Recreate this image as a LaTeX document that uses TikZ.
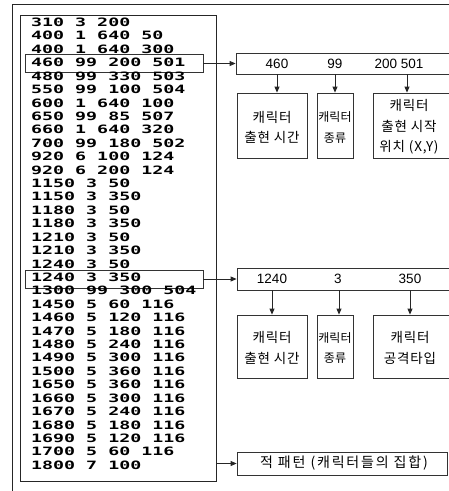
\documentclass[tikz,border=0pt]{standalone}
\usepackage{fontspec}
\usetikzlibrary{arrows.meta}
\setmainfont{Liberation Sans}
\newfontfamily\kr{Noto Sans CJK KR}
\newfontfamily\krsp{Noto Sans CJK KR}[LetterSpace=6]
\newfontfamily\krwide{Noto Sans CJK KR}[LetterSpace=13]
\newfontfamily\listfont{DejaVu Sans Mono}
\tikzset{
  frameline/.style={draw=black!85, line width=0.9pt},
  listbox/.style={draw=black!85, line width=0.9pt, minimum width=196, minimum height=466, inner sep=0},
  hlbox/.style={draw=black!80, line width=0.8pt, minimum width=178, minimum height=18, inner sep=0},
  listrow/.style={anchor=west, inner sep=0, font=\listfont\bfseries\fontsize{11.5}{13}\selectfont},
  infobox/.style={draw=black!80, line width=0.8pt, inner sep=0},
  numtxt/.style={inner sep=0, font=\fontsize{13.5}{15}\selectfont},
  subbox/.style={draw=black!80, line width=0.8pt, inner sep=0, align=center},
  krtxt/.style={inner sep=0, align=center, font=\krsp\fontsize{13.5}{20.5}\selectfont},
  krtight/.style={inner sep=0, align=center, font=\kr\fontsize{12}{20.5}\selectfont},
  arr/.style={draw=black!85, line width=0.8pt, -{Triangle[length=6pt,width=5pt]}}
}
\begin{document}
\begin{tikzpicture}[x=1pt,y=-1pt]
\clip (0,0) rectangle (449,491);
\useasboundingbox (0,0) rectangle (449,491);
% outer frame
\draw[frameline] (12,500) -- (12,4) -- (460,4);
% inner list box
\node[listbox] (list) at (118,248) {};
% highlight boxes
\node[hlbox] (h1) at (114,63.5) {};
\node[hlbox] (h2) at (114,279) {};
% rows
\foreach \t [count=\i] in {310 3 200,400 1 640 50,400 1 640 300,460 99 200 501,480 99 330 503,550 99 100 504,600 1 640 100,650 99 85 507,660 1 640 320,700 99 180 502,920 6 100 124,920 6 200 124,1150 3 50,1150 3 350,1180 3 50,1180 3 350,1210 3 50,1210 3 350,1240 3 50,1240 3 350,1300 99 300 504,1450 5 60 116,1460 5 120 116,1470 5 180 116,1480 5 240 116,1490 5 300 116,1500 5 360 116,1650 5 360 116,1660 5 300 116,1670 5 240 116,1680 5 180 116,1690 5 120 116,1700 5 60 116,1800 7 100}
  \node[listrow] (r\i) at (31,{22.3+(\i-1)*13.42}) {\scalebox{1.59}[1]{\t}};
% section 1
\node[infobox, minimum width=224, minimum height=21] (info1) at (348,63.5) {};
\node[numtxt] (n460) at (277,63.5) {460};
\node[numtxt] (n99) at (335,63.5) {99};
\node[numtxt] (n200) at (399,63.5) {200 501};
\draw[arr] (h1.east) -- (info1.west);
\node[subbox, minimum width=70, minimum height=65] (a1) at (272,125.5) {};
\node[subbox, minimum width=36, minimum height=65] (b1) at (335,125.5) {};
\node[subbox, minimum width=90, minimum height=65] (c1) at (418,125.5) {};
\node[krtxt] (a1t) at (272,127.5) {캐릭터\\출현 시간};
\node[krtight] (b1t) at (335,127.5) {캐릭터\\종류};
\node[krtxt] (c1t) at (409,127) {캐릭터\\출현 시작\\위치 (X,Y)};
\draw[arr] (n460 |- info1.south) -- (n460 |- a1.north);
\draw[arr] (n99 |- info1.south) -- (n99 |- b1.north);
\draw[arr] (407,74) coordinate (s1) -- (s1 |- c1.north);
% section 2
\node[infobox, minimum width=224, minimum height=22] (info2) at (349,279) {};
\node[numtxt] (n1240) at (272,279) {1240};
\node[numtxt] (n3) at (338,279) {3};
\node[numtxt] (n350) at (410,279) {350};
\draw[arr] (h2.east) -- (info2.west);
\node[subbox, minimum width=70, minimum height=63] (a2) at (272,346.5) {};
\node[subbox, minimum width=36, minimum height=63] (b2) at (335,346.5) {};
\node[subbox, minimum width=90, minimum height=63] (c2) at (418,346.5) {};
\node[krtxt] (a2t) at (272,348) {캐릭터\\출현 시간};
\node[krtight] (b2t) at (335,348) {캐릭터\\종류};
\node[krtxt] (c2t) at (410,348) {캐릭터\\공격타입};
\draw[arr] (n1240 |- info2.south) -- (n1240 |- a2.north);
\draw[arr] (339,290) coordinate (s2) -- (s2 |- b2.north);
\draw[arr] (n350 |- info2.south) -- (n350 |- c2.north);
% section 3
\node[infobox, minimum width=210, minimum height=23] (info3) at (342,463.5) {};
\node[inner sep=0, font=\krwide\fontsize{14}{16}\selectfont] (t3) at (344,463.5) {적 패턴 (캐릭터들의 집합)};
\draw[arr] (list.east |- info3.west) -- (info3.west);
\end{tikzpicture}
\end{document}
